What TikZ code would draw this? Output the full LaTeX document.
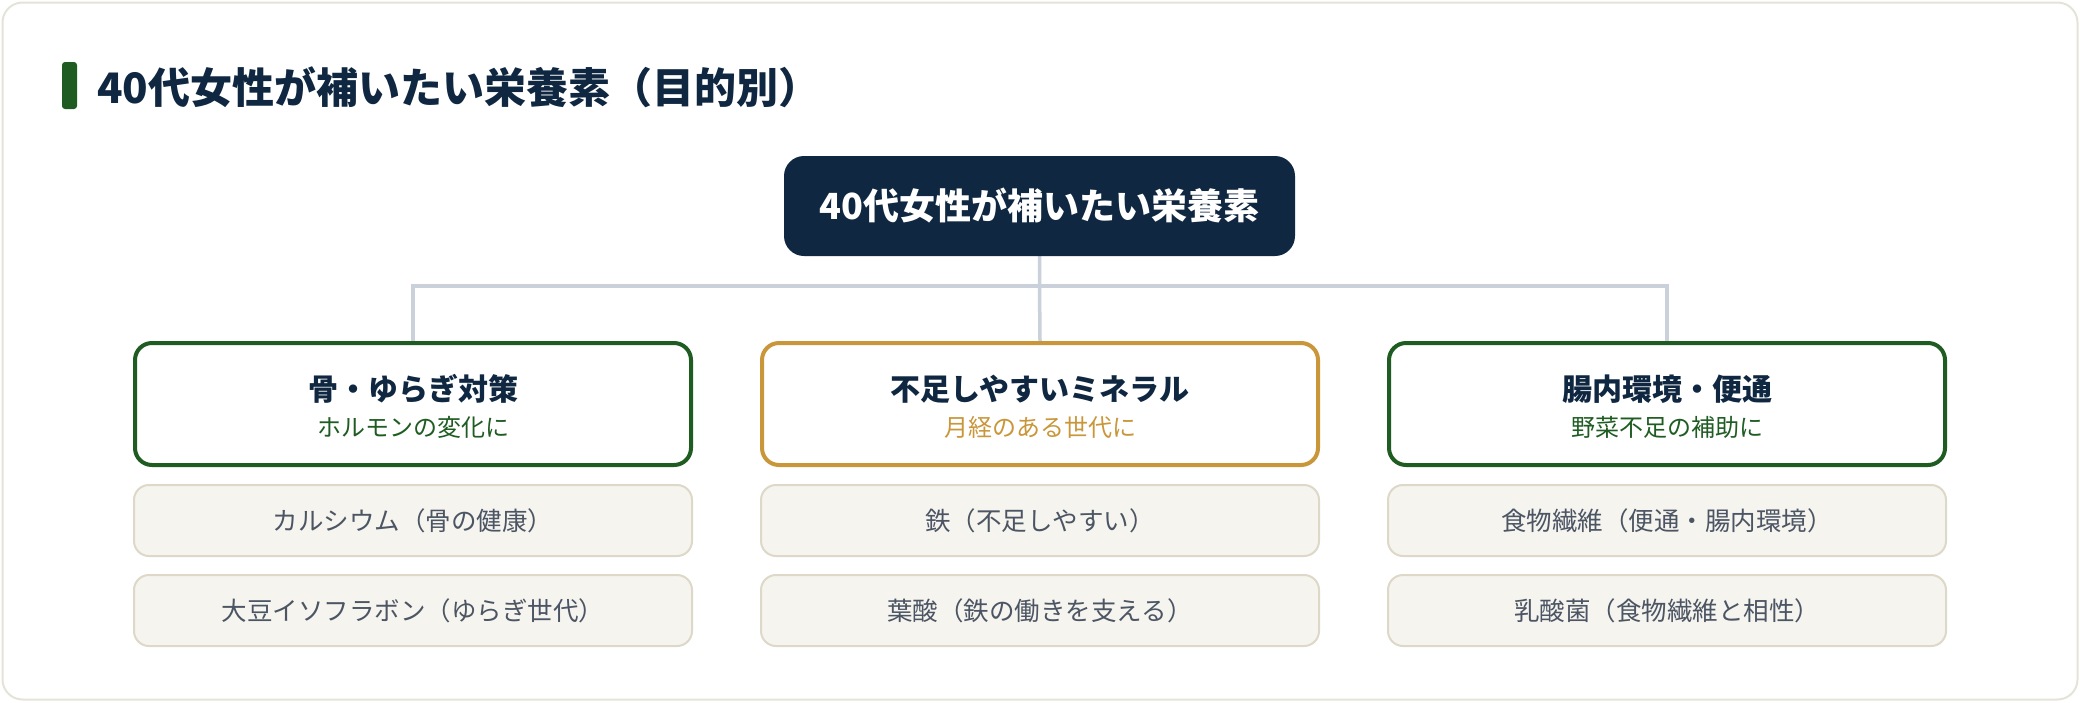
\documentclass[tikz,border=0pt]{standalone}
\usepackage{fontspec}
\setmainfont{Noto Sans CJK JP}
\usetikzlibrary{backgrounds}
\definecolor{navy}{HTML}{0F2740}
\definecolor{leaf}{HTML}{1F5C22}
\definecolor{gold}{HTML}{C9963A}
\definecolor{connc}{HTML}{CBD1DA}
\definecolor{itemfill}{HTML}{F6F4EF}
\definecolor{itemline}{HTML}{DDD8C8}
\definecolor{itemtext}{HTML}{4B5563}
\definecolor{cardline}{HTML}{E5E3D8}
\tikzset{
  card/.style={draw=cardline, line width=2pt, fill=white, rounded corners=20pt,
    minimum width=2075pt, minimum height=697pt, inner sep=0pt},
  titlebar/.style={fill=leaf, rounded corners=3pt, minimum width=15pt, minimum height=47pt, inner sep=0pt},
  titletext/.style={text=navy, inner sep=0pt, anchor=west, font=\fontsize{42}{50}\selectfont\bfseries},
  rootbox/.style={fill=navy, rounded corners=20pt, minimum width=511pt, minimum height=100pt, inner sep=0pt,
    text=white, font=\fontsize{36}{43}\selectfont\bfseries},
  catbox/.style={draw=#1, line width=4pt, fill=white, rounded corners=17pt,
    minimum width=556pt, minimum height=122pt, inner sep=0pt},
  cattitle/.style={text=navy, inner sep=0pt, font=\fontsize{30}{36}\selectfont\bfseries},
  catsub/.style={text=#1, inner sep=0pt, font=\fontsize{24}{29}\selectfont},
  itembox/.style={draw=itemline, line width=2pt, fill=itemfill, rounded corners=15pt,
    minimum width=558pt, minimum height=71pt, inner sep=0pt, text=itemtext,
    font=\fontsize{25.5}{30}\selectfont},
  conn/.style={draw=connc, line width=3.5pt},
}
\begin{document}
\begin{tikzpicture}[x=1pt,y=-1pt]
\useasboundingbox (0,0) rectangle (2080,702);
\node[titlebar] (bar) at (69.5,85.5) {};
\node[titletext] (title) at (97,87) {40代女性が補いたい栄養素（目的別）};
\node[rootbox] (root) at (1039.5,206) {40代女性が補いたい栄養素};
\coordinate (hub) at (1039.5,286);
% categories
\node[catbox=leaf] (c1) at (413,404) {};
\node[catbox=gold] (c2) at (1040,404) {};
\node[catbox=leaf] (c3) at (1667,404) {};
\node[cattitle] (c1t) at (413,389) {骨・ゆらぎ対策};
\node[catsub=leaf] (c1s) at (413,427) {ホルモンの変化に};
\node[cattitle] (c2t) at (1040,389) {不足しやすいミネラル};
\node[catsub=gold] (c2s) at (1040,427) {月経のある世代に};
\node[cattitle] (c3t) at (1667,389) {腸内環境・便通};
\node[catsub=leaf] (c3s) at (1667,427) {野菜不足の補助に};
% items
\node[itembox] (i1a) at (413,520.5) {カルシウム（骨の健康）};
\node[itembox] (i1b) at (413,610.5) {大豆イソフラボン（ゆらぎ世代）};
\node[itembox] (i2a) at (1040,520.5) {鉄（不足しやすい）};
\node[itembox] (i2b) at (1040,610.5) {葉酸（鉄の働きを支える）};
\node[itembox] (i3a) at (1667,520.5) {食物繊維（便通・腸内環境）};
\node[itembox] (i3b) at (1667,610.5) {乳酸菌（食物繊維と相性）};
\begin{scope}[on background layer]
\node[card] (card) at (1040,351) {};
\draw[conn] (root.south) -- (hub) -- (c2.north);
\draw[conn] (c1.north) |- (hub) -| (c3.north);
\end{scope}
\end{tikzpicture}
\end{document}
